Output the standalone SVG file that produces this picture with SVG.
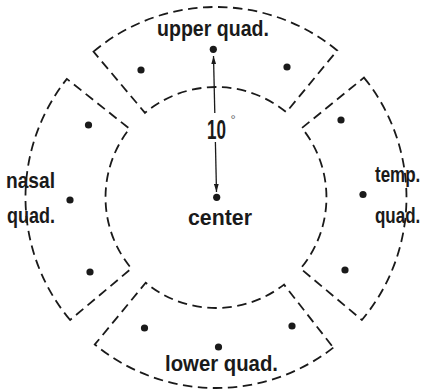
<svg xmlns="http://www.w3.org/2000/svg" width="425" height="391" viewBox="0 0 425 391">
<style>
.q{fill:none;stroke:#1a1a1a;stroke-width:1.8;stroke-dasharray:9.5 5.5;stroke-linejoin:miter}
.dot{fill:#1a1a1a}
.lbl{font-family:"Liberation Sans",Arial,sans-serif;font-weight:bold;font-size:21.5px;fill:#1a1a1a}
.arr{stroke:#1a1a1a;stroke-width:1.3;fill:none;marker-end:url(#ah)}
</style>
<defs>
<marker id="ah" viewBox="0 0 10 6" refX="10" refY="3" markerWidth="8" markerHeight="5" markerUnits="userSpaceOnUse" orient="auto">
<path d="M0,0 L10,3 L0,6 Z" fill="#1a1a1a"/>
</marker>
</defs>
<rect width="425" height="391" fill="#ffffff"/>
<g id="upper-quad">
<path class="q" d="M93.5,51.6 A190.5,190.5 0 0 1 337.2,50.5 L286.3,112.2 A110.5,110.5 0 0 0 145,112.9 Z"/>
<circle class="dot" cx="213.3" cy="49.3" r="3.6"/>
<circle class="dot" cx="141" cy="70" r="3.6"/>
<circle class="dot" cx="287" cy="67" r="3.6"/>
<text class="lbl" x="157" y="36" textLength="112" lengthAdjust="spacingAndGlyphs">upper quad.</text>
</g>
<g id="nasal-quad">
<path class="q" d="M70.1,320 A190.5,190.5 0 0 1 66.9,78.9 L129.5,128.7 A110.5,110.5 0 0 0 131.4,268.5 Z"/>
<circle class="dot" cx="88.5" cy="125" r="3.6"/>
<circle class="dot" cx="70" cy="200" r="3.6"/>
<circle class="dot" cx="90" cy="272" r="3.6"/>
<text class="lbl" x="6" y="188" textLength="49" lengthAdjust="spacingAndGlyphs">nasal</text>
<text class="lbl" x="7" y="223" textLength="48" lengthAdjust="spacingAndGlyphs">quad.</text>
</g>
<g id="temp-quad">
<path class="q" d="M364,77.6 A190.5,190.5 0 0 1 361.9,320 L300.6,268.5 A110.5,110.5 0 0 0 301.9,128 Z"/>
<circle class="dot" cx="341" cy="120" r="3.6"/>
<circle class="dot" cx="363" cy="194.5" r="3.6"/>
<circle class="dot" cx="345" cy="270" r="3.6"/>
<text class="lbl" transform="translate(375 182) scale(0.79 1)" x="0" y="0">temp.</text>
<text class="lbl" transform="translate(375 223) scale(0.79 1)" x="0" y="0">quad.</text>
</g>
<g id="lower-quad">
<path class="q" d="M333.3,347.6 A190.5,190.5 0 0 1 94.8,344.5 L145.7,282.8 A110.5,110.5 0 0 0 284,284.6 Z"/>
<circle class="dot" cx="144.5" cy="328" r="3.6"/>
<circle class="dot" cx="218.5" cy="347" r="3.6"/>
<circle class="dot" cx="292" cy="326" r="3.6"/>
<text class="lbl" x="165" y="371" textLength="113" lengthAdjust="spacingAndGlyphs">lower quad.</text>
</g>
<g id="center">
<circle class="dot" cx="216.7" cy="197.3" r="3.6"/>
<text class="lbl" x="188" y="225" textLength="64" lengthAdjust="spacingAndGlyphs">center</text>
</g>
<g id="connectors">
<line class="arr" x1="214.8" y1="113" x2="213.5" y2="56"/>
<line class="arr" x1="215.4" y1="142" x2="216.5" y2="192"/>
</g>
<g id="angle-label">
<text class="lbl" style="font-size:28px"><tspan x="207" y="139" textLength="19" lengthAdjust="spacingAndGlyphs">10</tspan><tspan x="230.5" y="124" style="font-size:13px;font-weight:normal;fill:#666">°</tspan></text>
</g>
</svg>
